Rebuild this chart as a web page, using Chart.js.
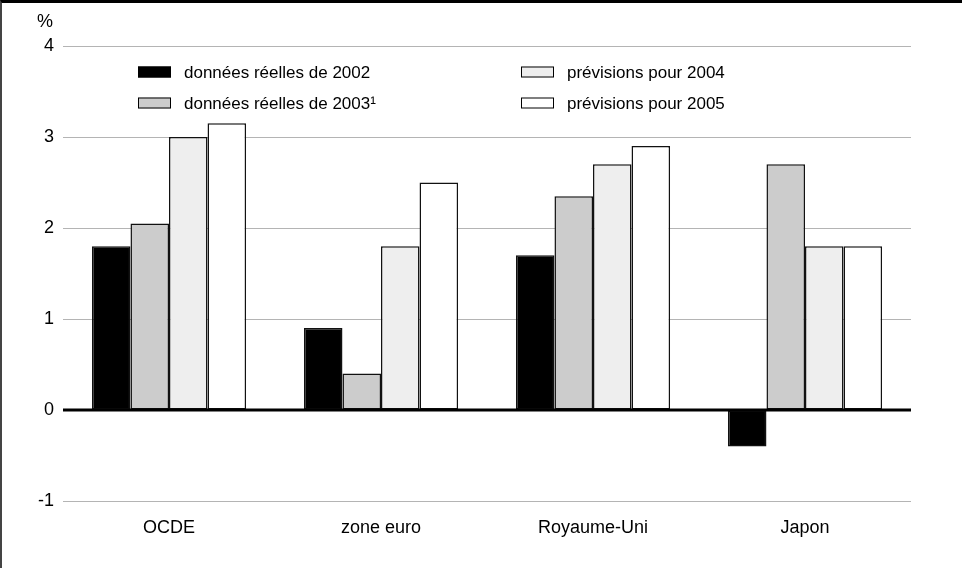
<!DOCTYPE html>
<html>
<head>
<meta charset="utf-8">
<script src="https://cdn.jsdelivr.net/npm/chart.js@4"></script>
<style>
    body { margin: 0; background: #fff; }
    #frame {
        width: 962px;
        height: 568px;
        box-sizing: border-box;
        border-top: 3px solid #000;
        border-left: 2px solid #444;
    }
    #myChart { display: block; }
</style>
</head>
<body>
<div id="frame"><canvas id="myChart" width="960" height="565"></canvas></div>
<script>
var categories = ["OCDE", "zone euro", "Royaume-Uni", "Japon"];
var seriesNames = ["données réelles de 2002", "données réelles de 2003¹", "prévisions pour 2004", "prévisions pour 2005"];
var reel2002 = [1.8, 0.9, 1.7, -0.4];
var reel2003 = [2.05, 0.4, 2.35, 2.7];
var prev2004 = [3.0, 1.8, 2.7, 1.8];
var prev2005 = [3.15, 2.5, 2.9, 1.8];
var yTicks = [-1, 0, 1, 2, 3, 4];

var fills = ["#000000", "#cccccc", "#eeeeee", "#ffffff"];
var FONT = "Liberation Sans, Arial, Helvetica, sans-serif";

// legend in two columns inside the plot, plus the "%" unit above the axis
var extras = {
    id: "extras",
    afterDatasetsDraw: function (chart) {
        var ctx = chart.ctx;
        var y = chart.scales.y;
        var area = chart.chartArea;
        var zero = y.getPixelForValue(0);
        ctx.save();
        ctx.strokeStyle = "#000";
        ctx.lineWidth = 3;
        ctx.beginPath();
        ctx.moveTo(area.left, zero);
        ctx.lineTo(area.right, zero);
        ctx.stroke();
        ctx.restore();
    },
    afterDraw: function (chart) {
        var ctx = chart.ctx;
        ctx.save();
        ctx.font = "18px " + FONT;
        ctx.fillStyle = "#000";
        ctx.textBaseline = "middle";
        ctx.textAlign = "center";
        ctx.fillText("%", 43, 19);

        var cols = [136, 519];
        var rows = [69, 100];
        ctx.font = "17px " + FONT;
        ctx.textAlign = "left";
        chart.data.datasets.forEach(function (ds, i) {
            var bx = cols[Math.floor(i / 2)];
            var by = rows[i % 2];
            ctx.fillStyle = ds.backgroundColor;
            ctx.fillRect(bx, by - 5.5, 33, 11);
            ctx.strokeStyle = "#000";
            ctx.lineWidth = 1;
            ctx.strokeRect(bx + 0.5, by - 5, 32, 10);
            ctx.fillStyle = "#000";
            ctx.fillText(ds.label, bx + 46, by + 1);
        });
        ctx.restore();
    }
};

var ctx = document.getElementById("myChart").getContext("2d");
var chart = new Chart(ctx, {
    type: "bar",
    data: {
        labels: categories,
        datasets: [reel2002, reel2003, prev2004, prev2005].map(function (values, i) {
            return {
                label: seriesNames[i],
                data: values,
                backgroundColor: fills[i],
                borderColor: "#111",
                borderWidth: 1.5,
                borderSkipped: false,
                categoryPercentage: 0.727,
                barPercentage: 1.0
            };
        })
    },
    options: {
        responsive: false,
        animation: false,
        devicePixelRatio: 1,
        layout: { padding: { top: 43, right: 51, left: 0, bottom: 0 } },
        plugins: {
            legend: { display: false },
            tooltip: { enabled: false }
        },
        scales: {
            x: {
                grid: { display: false },
                border: { display: false },
                ticks: {
                    color: "#000",
                    font: { family: FONT, size: 18 },
                    padding: 8,
                    maxRotation: 0
                },
                afterFit: function (scale) { scale.height = 67; }
            },
            y: {
                min: -1,
                max: 4,
                border: { display: false },
                grid: {
                    drawTicks: false,
                    color: "#b4b4b4",
                    lineWidth: 1
                },
                afterBuildTicks: function (scale) {
                    scale.ticks = yTicks.map(function (v) { return { value: v }; });
                },
                ticks: {
                    color: "#000",
                    font: { family: FONT, size: 18 },
                    padding: 9
                },
                afterFit: function (scale) { scale.width = 61; }
            }
        }
    },
    plugins: [extras]
});
</script>
</body>
</html>
